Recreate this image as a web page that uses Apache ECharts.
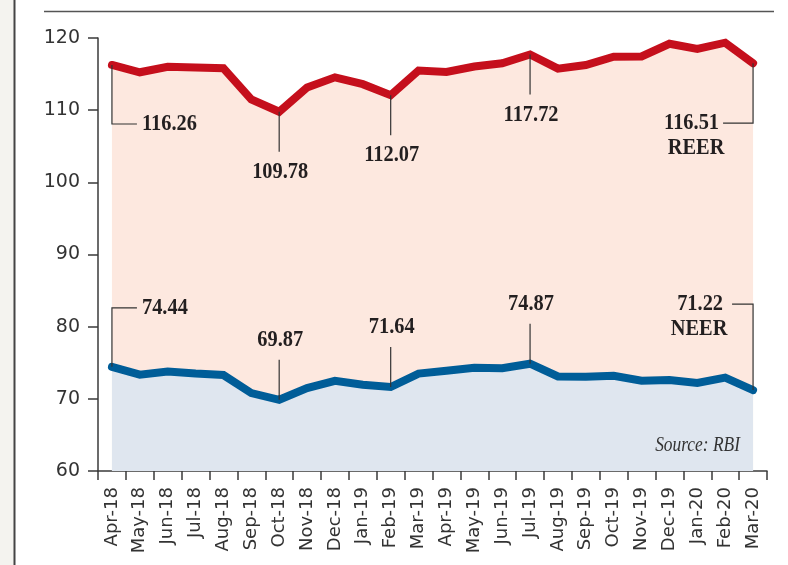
<!DOCTYPE html>
<html>
<head>
<meta charset="utf-8">
<script src="https://cdn.jsdelivr.net/npm/echarts@6/dist/echarts.min.js"></script>
<style>
html,body{margin:0;padding:0;background:#fff;}
#chart{width:788px;height:565px;}
</style>
</head>
<body>
<div id="chart"></div>
<script>
const months = ['Apr-18','May-18','Jun-18','Jul-18','Aug-18','Sep-18','Oct-18','Nov-18','Dec-18','Jan-19','Feb-19','Mar-19','Apr-19','May-19','Jun-19','Jul-19','Aug-19','Sep-19','Oct-19','Nov-19','Dec-19','Jan-20','Feb-20','Mar-20'];
const reer = [116.26,115.25,116.0,115.9,115.8,111.5,109.78,113.15,114.55,113.6,112.07,115.5,115.3,116.05,116.5,117.72,115.75,116.25,117.4,117.45,119.2,118.5,119.35,116.51];
const neer = [74.44,73.35,73.8,73.5,73.3,70.8,69.87,71.5,72.5,71.95,71.64,73.5,73.9,74.3,74.25,74.87,73.1,73.05,73.2,72.5,72.6,72.2,72.95,71.22];
const yTicks = [60,70,80,90,100,110,120];

const reerNotes = [
  {i:0, text:'116.26', kind:'elbowRight'},
  {i:6, text:'109.78', kind:'vertical'},
  {i:10, text:'112.07', kind:'vertical'},
  {i:15, text:'117.72', kind:'vertical'},
  {i:23, text:'116.51', extra:'REER', kind:'elbowLeft'}
];
const neerNotes = [
  {i:0, text:'74.44', kind:'elbowRight'},
  {i:6, text:'69.87', kind:'vertical'},
  {i:10, text:'71.64', kind:'vertical'},
  {i:15, text:'74.87', kind:'vertical'},
  {i:23, text:'71.22', extra:'NEER', kind:'elbowLeft'}
];

const chart = echarts.init(document.getElementById('chart'), null, {renderer:'canvas'});
const axisColor = '#3a3a3a';
const labelFont = 'DejaVu Sans';
chart.setOption({
  animation:false,
  backgroundColor:'#ffffff',
  grid:{left:98, right:21, top:38, bottom:94, containLabel:false},
  xAxis:{
    type:'category', data:months, boundaryGap:true,
    axisLine:{show:true, lineStyle:{color:axisColor, width:1.5}},
    axisTick:{show:true, length:9, interval:0, lineStyle:{color:axisColor, width:1.5}},
    axisLabel:{interval:0, rotate:90, fontSize:18, color:'#333', fontFamily:labelFont, margin:16},
    splitLine:{show:false}
  },
  yAxis:{
    type:'value', min:yTicks[0], max:yTicks[yTicks.length-1], interval:10,
    axisLine:{show:true, lineStyle:{color:axisColor, width:1.5}},
    axisTick:{show:true, length:10, lineStyle:{color:axisColor, width:1.5}},
    axisLabel:{fontSize:19, color:'#333', fontFamily:labelFont, margin:18},
    splitLine:{show:false}
  },
  series:[
    {name:'REER', type:'line', data:reer, symbol:'none', smooth:false,
     lineStyle:{color:'#c50f1c', width:8, cap:'round', join:'miter'},
     areaStyle:{color:'#fde8df', opacity:1, origin:'start'}, z:2},
    {name:'NEER', type:'line', data:neer, symbol:'none', smooth:false,
     lineStyle:{color:'#005d98', width:8, cap:'round', join:'miter'},
     areaStyle:{color:'#dfe6ef', opacity:1, origin:'start'}, z:3}
  ]
});

const numFont = 'bold 24px "Liberation Serif", "DejaVu Serif", serif';
const sx = 0.85;
const lineStyle = {stroke:'#333', lineWidth:1.2};
const graphics = [];
graphics.push({type:'rect', shape:{x:0,y:0,width:14,height:565}, style:{fill:'#f4f3ef'}, silent:true, z:0});
graphics.push({type:'line', shape:{x1:14.5,y1:0,x2:14.5,y2:565}, style:{stroke:'#444', lineWidth:2}, silent:true});
graphics.push({type:'line', shape:{x1:44,y1:11.5,x2:774,y2:11.5}, style:{stroke:'#555', lineWidth:1.6}, silent:true});

function txt(x, y, s, align, font) {
  return {type:'text', x:x, y:y, scaleX:sx, scaleY:1,
    style:{text:s, font:font || numFont, fill:'#231f20', textAlign:align, textVerticalAlign:'middle'}, z:10};
}

function addNotes(notes, data, seriesIndex, dir) {
  notes.forEach(n => {
    const p = chart.convertToPixel({seriesIndex:seriesIndex}, [n.i, data[n.i]]);
    const x = p[0], y = p[1];
    if (n.kind === 'elbowRight') {
      const ey = y + dir*59;
      graphics.push({type:'polyline', shape:{points:[[x,y],[x,ey],[x+25,ey]]}, style:lineStyle, z:10});
      graphics.push(txt(x+30, ey, n.text, 'left'));
    } else if (n.kind === 'vertical') {
      const ey = y + dir*40;
      const ty = y + dir*60;
      graphics.push({type:'line', shape:{x1:x,y1:y,x2:x,y2:ey}, style:lineStyle, z:10});
      graphics.push(txt(x+1, ty, n.text, 'center'));
    } else {
      const ey = dir > 0 ? y + 60 : y - 86;
      graphics.push({type:'polyline', shape:{points:[[x,y],[x,ey],[x - (dir>0?30:21),ey]]}, style:lineStyle, z:10});
      graphics.push(txt(x - (dir>0?34:30), ey, n.text, 'right'));
      const ly = ey + 25;
      graphics.push(txt(x - (dir>0?57:54), ly, n.extra, 'center'));
    }
  });
}
addNotes(reerNotes, reer, 0, 1);
addNotes(neerNotes, neer, 1, -1);

graphics.push({type:'text', x:740, y:446, scaleX:0.87, scaleY:1, style:{text:'Source: RBI', font:'italic 20px "Liberation Serif", "DejaVu Serif", serif', fill:'#333', textAlign:'right', textVerticalAlign:'middle'}, z:10});

chart.setOption({graphic:graphics});
</script>
</body>
</html>
